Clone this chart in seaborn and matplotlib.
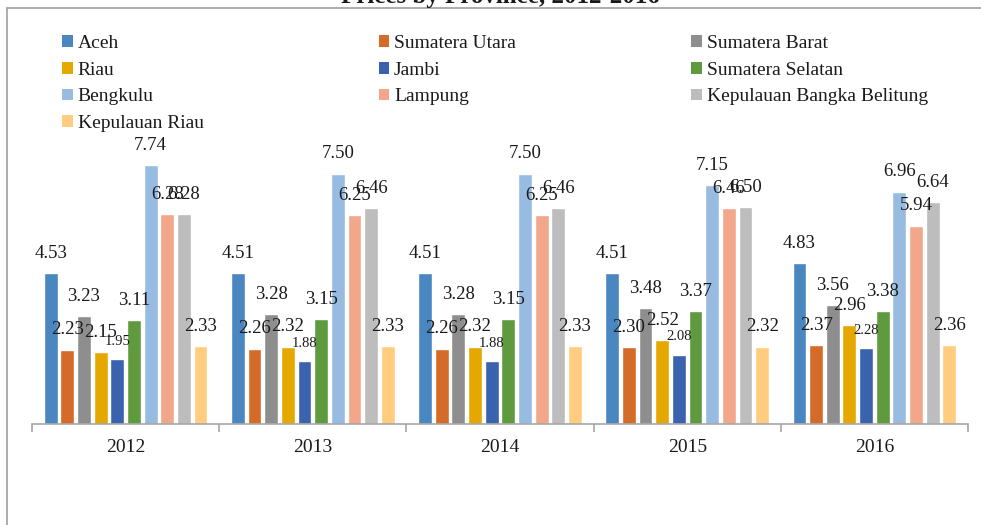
import matplotlib
matplotlib.use("Agg")
import matplotlib.pyplot as plt
import matplotlib.patches as mpatches
from matplotlib.lines import Line2D
import seaborn as sns
import pandas as pd

years = ["2012", "2013", "2014", "2015", "2016"]
provinces = ["Aceh", "Sumatera Utara", "Sumatera Barat", "Riau", "Jambi",
             "Sumatera Selatan", "Bengkulu", "Lampung",
             "Kepulauan Bangka Belitung", "Kepulauan Riau"]
aceh = [4.53, 4.51, 4.51, 4.51, 4.83]
sumatera_utara = [2.23, 2.26, 2.26, 2.30, 2.37]
sumatera_barat = [3.23, 3.28, 3.28, 3.48, 3.56]
riau = [2.15, 2.32, 2.32, 2.52, 2.96]
jambi = [1.95, 1.88, 1.88, 2.08, 2.28]
sumatera_selatan = [3.11, 3.15, 3.15, 3.37, 3.38]
bengkulu = [7.74, 7.50, 7.50, 7.15, 6.96]
lampung = [6.28, 6.25, 6.25, 6.46, 5.94]
bangka_belitung = [6.28, 6.46, 6.46, 6.50, 6.64]
kepulauan_riau = [2.33, 2.33, 2.33, 2.32, 2.36]
series = [aceh, sumatera_utara, sumatera_barat, riau, jambi,
          sumatera_selatan, bengkulu, lampung, bangka_belitung, kepulauan_riau]
colors = ["#4a86c0", "#d46b29", "#8e8e8e", "#e5a800", "#3a62ae",
          "#5f9a3e", "#98bbe1", "#f2a78a", "#bdbdbd", "#ffcc80"]
title = "Prices by Province, 2012-2016"

rows = []
for p, vals in zip(provinces, series):
    for y, v in zip(years, vals):
        rows.append({"Year": y, "Province": p, "Value": v})
df = pd.DataFrame(rows)

sns.set_theme(style="white")
plt.rcParams["font.family"] = ["Liberation Serif", "DejaVu Serif"]

W, H = 981, 525
fig = plt.figure(figsize=(W / 100, H / 100), dpi=100)
ax = fig.add_axes([32 / W, 1 - 424 / H, (968 - 32) / W, (424 - 30) / H])

sns.barplot(data=df, x="Year", y="Value", hue="Province", order=years,
            hue_order=provinces, palette=colors, width=0.89, gap=0.17,
            saturation=1, ax=ax, legend=False, errorbar=None)

ax.set_ylim(0, 394 / 33.4)
ax.set_xlim(-0.5, len(years) - 0.5)

for i, cont in enumerate(ax.containers):
    size = 10.5 if provinces[i] == "Jambi" else 13.5
    ax.bar_label(cont, fmt="%.2f", padding=8, fontsize=size, color="#1a1a1a")

# axes styling
for s in ["left", "right", "top"]:
    ax.spines[s].set_visible(False)
ax.spines["bottom"].set_color("#a6a6a6")
ax.spines["bottom"].set_linewidth(1.2)
ax.set_yticks([])
ax.set_xlabel("")
ax.set_ylabel("")
ax.set_xticks(range(len(years)))
ax.set_xticklabels(years, fontsize=14, color="#1a1a1a")
ax.tick_params(axis="x", which="major", length=0, pad=11)
ax.set_xticks([i - 0.5 for i in range(len(years) + 1)], minor=True)
ax.tick_params(axis="x", which="minor", length=6, width=1.2, color="#a6a6a6",
               direction="out", bottom=True)

# legend (row-wise order in 3 columns)
handles = [mpatches.Patch(facecolor=c, edgecolor="none") for c in colors]
order = [0, 3, 6, 9, 1, 4, 7, 2, 5, 8]
leg = ax.legend([handles[i] for i in order], [provinces[i] for i in order],
                ncol=3, loc="upper left", bbox_to_anchor=(62 / W, 1 - 35 / H),
                bbox_transform=fig.transFigure, frameon=False, fontsize=14,
                handlelength=0.55, handleheight=0.55, handletextpad=0.25,
                labelspacing=0.5, columnspacing=9.0, borderaxespad=0,
                borderpad=0)
for t in leg.get_texts():
    t.set_color("#1a1a1a")

# chart frame
fig.add_artist(Line2D([7 / W, 1.0], [1 - 8 / H, 1 - 8 / H], transform=fig.transFigure,
                      color="#a0a0a0", lw=1.2))
fig.add_artist(Line2D([7 / W, 7 / W], [1 - 8 / H, 0.0], transform=fig.transFigure,
                      color="#a0a0a0", lw=1.2))

fig.text(0.51, 1 - 3 / H, title, ha="center", va="baseline", fontsize=18,
         fontweight="bold", color="#1a1a1a")

fig.savefig("out.png", dpi=100)
